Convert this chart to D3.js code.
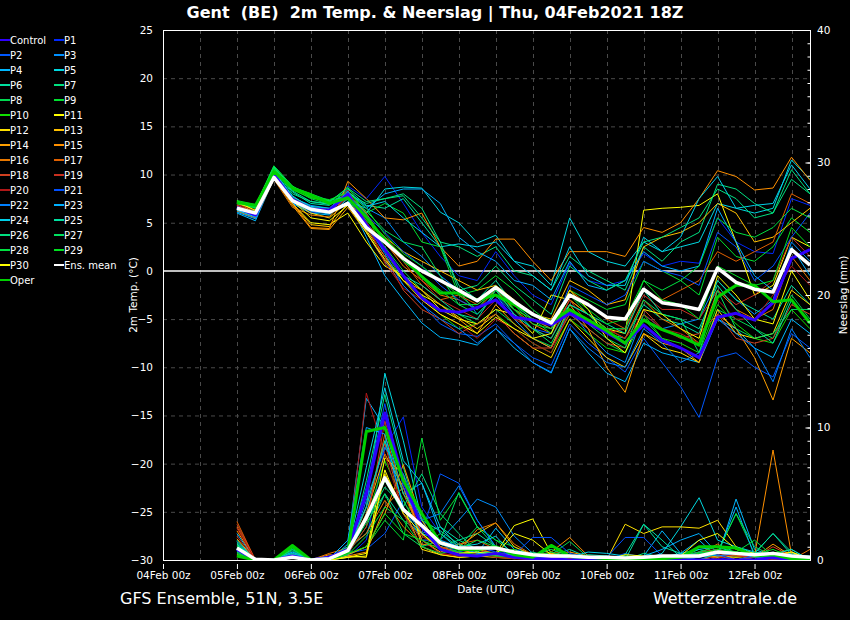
<!DOCTYPE html>
<html>
<head>
<meta charset="utf-8">
<script src="https://cdn.jsdelivr.net/npm/d3@7"></script>
<style>
  body { margin: 0; background: #000; }
  svg { display: block; font-family: "DejaVu Sans", sans-serif; }
</style>
</head>
<body>
<div id="chart"></div>
<script>
// member names and colours (legend order)
var names = ["Control","P1","P2","P3","P4","P5","P6","P7","P8","P9","P10","P11","P12","P13","P14","P15",
  "P16","P17","P18","P19","P20","P21","P22","P23","P24","P25","P26","P27","P28","P29","P30","Ens. mean","Oper"];
var colors = ["#3000ff","#0028ff","#0058ff","#0090ff","#00b8ff","#00d8e0","#00e0a0","#00e080","#00d850","#00e030",
  "#10e000","#ffff00","#ffe000","#ffc000","#ffa000","#ff9000","#e87800","#e06000","#d04020","#c83020","#b01818",
  "#0050ff","#0080ff","#00b0ff","#00d0e8","#00e0a0","#00e080","#00e060","#00e040","#00e020","#ffff00","#ffffff","#00d000"];

// axis ticks
var tempTicks = [-30,-25,-20,-15,-10,-5,0,5,10,15,20,25];
var rainTicks = [0,10,20,30,40];

// 2m temperature (deg C), every 6h from 05Feb 00z
var tControl = [6.6,5.8,10.0,7.4,6.4,6.3,8.0,4.8, 2.2,-0.5,-2.8,-4.1,-4.3,-3.8,-3.0,-4.8, -5.1,-5.6,-4.4,-5.4,-6.4,-7.5,-5.6,-7.2, -8.0,-9.0,-4.8,-4.4,-5.1,-3.3,1.3,2.2];
var tP1 = [6.2,5.5,10.2,7.0,6.0,6.2,8.8,7.5, 9.8,7.0,4.0,1.5,-0.5,-1.0,2.0,-0.5, -2.5,-3.5,0.8,-1.0,-1.5,-1.0,1.8,0.5, 1.0,0.8,5.5,3.0,2.0,1.8,7.5,6.8];
var tP2 = [6.5,5.7,9.8,7.2,6.2,6.0,8.0,4.0, 1.0,-1.5,-3.5,-5.5,-6.5,-6.8,-5.5,-7.5, -9.0,-9.8,-5.5,-7.5,-9.0,-10.5,-7.0,-9.5, -12.0,-15.2,-9.0,-8.5,-10.0,-11.0,-6.5,-8.0];
var tP3 = [6.8,6.0,10.0,7.6,6.8,6.5,8.2,6.5, 5.5,3.0,1.5,-0.5,-2.0,-4.5,-2.5,-5.0, -7.0,-8.0,-4.0,-6.5,-8.5,-9.5,-4.5,-6.0, -5.5,-5.0,-1.0,-3.0,-4.5,-3.0,3.0,1.0];
var tP4 = [6.0,5.2,9.6,7.0,6.0,5.8,7.5,3.5, -0.5,-3.0,-5.4,-6.9,-7.2,-7.7,-6.0,-8.0, -9.5,-10.6,-6.0,-8.5,-10.6,-11.5,-7.5,-8.5, -9.0,-9.5,-5.0,-6.0,-8.0,-9.0,-5.0,-6.5];
var tP5 = [6.3,5.6,10.4,7.8,6.5,6.4,7.8,6.0, 8.5,8.7,8.6,6.1,5.0,2.9,3.7,1.0, 0.5,-1.5,5.5,2.0,1.0,0.5,3.0,2.0, 2.5,3.0,7.0,6.5,6.0,6.5,11.5,9.5];
var tP6 = [7.0,6.5,10.5,8.2,7.0,6.8,8.5,6.8, 6.5,7.5,5.0,2.5,-1.5,-3.0,-1.0,-3.5, -5.0,-6.0,-3.5,-4.5,-6.5,-7.0,-3.5,-5.0, -5.5,-6.5,-1.0,-3.0,-4.0,-5.0,-1.5,-3.5];
var tP7 = [6.7,6.2,10.6,8.0,7.2,7.0,8.0,7.0, 7.5,8.0,6.5,3.0,2.5,1.5,2.5,0.0, -0.5,-2.0,1.5,0.0,-1.0,-2.0,2.5,1.0, 3.0,4.0,9.0,8.5,7.0,6.0,10.5,8.0];
var tP8 = [6.9,6.6,10.8,8.5,7.5,6.9,7.4,5.0, 2.5,0.0,-2.0,-3.5,-4.5,-5.5,-4.0,-5.5, -7.0,-7.8,-4.5,-6.0,-7.5,-8.5,-5.0,-7.0, -8.0,-9.0,-4.0,-5.0,-6.0,-7.0,-2.5,-5.0];
var tP9 = [7.2,6.8,10.9,8.8,7.6,7.3,8.3,6.0, 7.0,6.0,3.0,2.5,-2.5,-2.0,-0.5,-2.0, -4.0,-5.5,-2.0,-3.0,-4.0,-3.5,1.0,0.0, -1.0,-2.5,3.5,1.5,1.0,2.5,5.5,4.0];
var tP10 = [7.0,6.5,10.6,8.4,7.6,7.1,8.7,5.8, 2.0,-1.0,-2.5,-4.5,-6.0,-5.5,-4.5,-6.0, -7.5,-8.5,-5.0,-6.5,-8.0,-8.5,-4.5,-7.0, -7.5,-8.5,-3.5,-5.5,-7.0,-7.5,-4.0,-6.0];
var tP11 = [7.3,6.2,9.8,7.0,5.0,4.8,6.0,3.0, 0.5,-0.5,-2.0,-4.0,-5.0,-5.5,-4.0,-4.5, -6.5,-2.5,-3.0,-4.5,-6.0,-6.5,6.3,6.5, 6.6,6.8,8.0,3.0,-2.5,-1.5,3.5,2.5];
var tP12 = [7.1,6.0,9.9,7.2,6.0,5.5,7.2,4.2, 1.5,-1.0,-2.5,-3.5,-4.8,-6.0,-4.5,-6.5, -8.0,-9.0,-5.0,-7.0,-9.0,-10.0,-6.5,-8.0, -8.5,-9.5,-4.0,-6.5,-7.0,-6.5,-2.0,-3.5];
var tP13 = [6.8,5.9,9.7,7.0,4.8,4.6,7.0,5.5, 3.5,2.0,1.0,0.0,-1.0,-2.0,-1.5,-3.0, -4.5,-5.0,-1.0,-2.0,-3.5,-3.0,2.5,3.5, 4.0,5.0,7.0,6.0,3.0,3.5,5.0,6.5];
var tP14 = [6.5,5.8,9.6,6.8,4.4,4.3,6.6,4.0, 1.0,-1.0,-2.0,-3.5,-5.0,-6.5,-3.5,-5.5, -7.0,-8.0,-3.5,-6.0,-10.0,-12.6,-6.5,-7.5, -8.0,-9.5,-4.5,-6.0,-9.0,-13.4,-7.0,-8.5];
var tP15 = [6.4,5.7,9.8,7.0,4.5,4.4,9.3,7.5, 5.5,5.3,6.0,2.5,0.5,1.0,3.3,3.3, 1.0,-1.0,2.0,2.0,2.0,1.5,4.5,4.0, 5.0,7.5,10.4,9.8,8.4,8.6,11.8,9.4];
var tP16 = [6.2,5.5,9.5,6.6,5.8,5.6,8.0,6.0, 3.0,0.5,-1.0,-2.5,-3.0,-4.0,-2.0,-4.0, -5.5,-6.5,-3.0,-4.5,-6.0,-7.0,-3.0,-5.0, -6.0,-7.5,-2.0,-4.0,-5.0,-4.0,1.5,-1.0];
var tP17 = [6.6,6.0,10.0,7.3,6.3,6.0,7.0,5.0, 2.8,1.0,-1.5,-3.0,-2.5,-3.5,-2.0,-4.0, -5.0,-6.0,-2.0,-3.5,-5.0,-6.0,-2.0,-3.0, -2.0,-1.0,2.0,1.0,2.0,3.0,8.0,7.0];
var tP18 = [6.8,6.1,10.1,7.5,6.5,6.2,8.1,4.5, 1.5,-2.0,-4.0,-5.0,-6.5,-5.5,-4.5,-6.5, -8.0,-8.0,-4.5,-6.0,-7.5,-8.0,-4.0,-6.0, -7.0,-6.5,-4.5,-7.0,-7.5,-7.0,-3.5,-4.5];
var tP19 = [6.7,6.0,10.0,7.4,6.2,6.0,7.6,5.5, 3.5,1.5,-1.0,-3.0,-4.0,-5.0,-3.0,-5.0, -6.0,-7.0,-3.0,-5.5,-6.5,-6.0,-2.5,-4.0, -4.0,-5.0,-2.0,-3.5,-2.5,-1.0,3.5,1.5];
var tP20 = [6.9,6.3,10.2,7.6,6.6,6.4,8.4,5.2, 0.8,-1.8,-3.0,-4.5,-5.5,-7.0,-5.0,-6.0, -7.5,-8.5,-4.0,-5.0,-6.0,-7.0,-4.5,-6.0, -6.5,-7.5,-3.0,-5.0,-5.0,-2.5,0.5,-1.5];
var tP21 = [6.4,5.6,9.9,7.3,6.4,6.1,7.9,5.8, 4.0,2.0,0.5,-1.5,-3.0,-4.0,-2.5,-4.5, -6.0,-6.5,-1.5,-2.5,-3.5,-2.5,1.0,0.0, -0.5,-1.5,4.0,2.5,-1.0,0.5,3.5,6.0];
var tP22 = [6.5,5.9,10.1,7.5,6.6,6.3,8.3,4.8, 1.8,-1.5,-3.5,-5.0,-6.0,-7.5,-6.0,-7.5, -9.5,-10.5,-6.0,-8.0,-9.5,-10.0,-6.0,-7.5, -9.5,-8.5,-5.0,-6.5,-8.0,-11.5,-6.0,-9.0];
var tP23 = [6.1,5.4,9.8,7.1,6.2,5.9,7.2,6.5, 8.0,8.5,8.5,7.0,3.5,2.0,1.0,-1.0, -1.5,-3.0,1.0,-1.5,-2.0,-1.0,2.0,0.5, 0.0,0.5,6.5,3.0,-0.5,-2.0,2.5,-0.5];
var tP24 = [6.3,5.6,10.3,7.7,6.7,6.5,8.2,6.7, 7.2,5.5,4.0,2.5,2.8,2.5,3.0,1.0, -0.5,-2.0,2.5,-0.5,-1.5,-1.5,3.5,2.0, 3.5,7.5,9.8,6.5,6.8,7.0,11.0,8.5];
var tP25 = [7.0,6.6,10.7,8.3,7.2,6.9,8.0,4.6, 2.0,-0.5,-1.5,-3.0,-4.5,-5.0,-2.0,-4.5, -6.0,-7.0,-3.5,-4.5,-5.5,-6.5,-2.0,-4.5, -5.0,-6.0,-1.5,-4.0,-6.0,-7.5,-3.0,-5.5];
var tP26 = [7.1,6.7,10.8,8.6,7.8,7.2,8.6,7.2, 7.5,7.8,5.5,3.0,-2.0,-1.5,0.5,-1.5, -3.0,-4.5,0.5,-1.0,-2.0,-1.0,3.0,3.5, 4.5,5.5,8.5,7.5,5.5,6.0,9.5,8.0];
var tP27 = [7.2,6.7,10.7,8.7,8.0,7.3,7.8,6.2, 4.2,3.0,2.5,-0.5,-3.5,-4.5,-2.5,-4.0, -6.0,-7.5,-4.0,-5.5,-7.0,-8.0,-3.0,-4.5, -5.0,-8.5,-2.0,-6.0,-7.0,-6.5,-4.0,-4.0];
var tP28 = [7.0,6.6,10.9,8.8,7.8,7.2,7.5,5.2, 3.5,1.0,-0.5,-2.0,-3.5,-3.5,-2.0,-3.5, -5.5,-6.0,-2.5,-4.5,-6.0,-6.0,-1.0,-2.0, -1.0,0.5,5.5,4.0,3.5,4.5,6.5,5.5];
var tP29 = [7.3,6.9,10.6,8.6,7.7,7.4,8.1,6.5, 3.8,1.8,0.5,-1.0,-2.5,-4.0,-1.5,-4.0, -5.0,-6.5,-2.5,-4.0,-5.5,-5.0,-1.0,-3.0, -3.5,-5.0,0.5,-0.5,-1.5,-1.0,4.5,2.5];
var tP30 = [7.1,6.3,10.0,7.3,5.5,5.2,6.8,4.0, 1.2,-1.0,-3.0,-4.5,-5.5,-6.5,-4.8,-6.0, -7.0,-6.5,-2.0,-4.0,-7.0,-8.5,-4.0,-4.5, -6.0,-7.0,-0.5,-2.5,-5.0,-5.5,0.0,-3.0];
var tMean = [6.5,6.0,9.7,7.3,6.4,6.1,7.0,4.5, 3.0,1.3,0.0,-1.0,-2.0,-3.1,-1.7,-3.2, -4.5,-5.4,-2.5,-3.5,-4.8,-5.0,-1.9,-3.3, -3.6,-4.0,0.3,-1.2,-1.9,-2.2,2.2,0.6];
var tOper = [7.1,6.8,10.3,8.6,7.9,7.0,7.6,5.6, 3.2,1.4,-0.6,-2.3,-2.3,-3.0,-2.5,-3.5, -4.5,-5.3,-4.0,-5.1,-6.2,-7.5,-5.1,-6.1, -6.8,-7.7,-2.7,-1.5,-1.5,-3.2,-3.0,-5.4];

// neerslag (mm per 6h)
var pControl = [0.8,0,0,0.3,0,0.2,0.8,5.0, 11.1,6.0,2.5,0.8,0.4,0.3,0.5,0.2, 0.1,0.1,0,0,0,0,0,0.1, 0,0,0,0,0,0.2,0,0];
var pP1 = [0.5,0,0,0.4,0,0,0.2,1.5, 8.5,10.8,4.0,2.0,1.0,0.5,0.8,0.3, 0,0,0,0,0,0,0,0, 0.2,0,0,0.4,0,0,0,0];
var pP2 = [1.2,0,0,0.2,0,0.3,0.5,0.8, 2.0,4.5,2.0,6.5,5.8,3.0,1.0,0.5, 0.2,0,0.3,0,0,0.5,0.2,0, 0,0.3,0.6,0,0.2,0,0,0];
var pP3 = [0.6,0,0,0.6,0.1,0,0.3,3.5, 9.0,4.0,1.5,1.5,3.0,4.6,4.0,1.8, 0.5,0,0,0,0.3,0,0,0.2, 0,0.5,0,0,0.3,0,0,0];
var pP4 = [2.0,0,0,0.3,0,0,1.2,12.2, 10.0,5.0,5.8,2.0,0.8,0.5,2.4,0.8, 0.4,0.2,0,0.1,0,0,0.3,2.2, 0.5,1.5,0.2,4.6,0.8,0.3,0.2,0];
var pP5 = [0.9,0,0,0.8,0,0.2,1.0,4.0, 14.1,9.0,3.0,1.0,0.5,0.6,0.3,0.5, 0.2,0,0,0,0.1,0,0,0.5, 2.5,4.7,1.5,1.0,0.6,0.4,0.5,0];
var pP6 = [1.5,0,0,0.5,0,0.2,0.8,2.0, 5.0,3.0,2.0,2.5,1.5,2.0,1.0,0.5, 0.2,0.3,0.8,0.2,0,0.4,2.7,1.0, 0.5,0.3,0.4,1.0,0.5,2.0,0.6,0];
var pP7 = [1.3,0,0,0.4,0,0,0.3,6.0, 12.5,7.0,2.5,1.0,1.5,0.8,0.4,0.3, 0.6,0.2,0.1,0,0,0,0.5,0.2, 0.2,0.8,0.3,0.3,0.6,0.3,0.2,0.1];
var pP8 = [1.0,0,0,0.2,0,0,0.5,2.5, 6.0,3.5,1.0,2.0,1.0,2.5,1.5,0.5, 0.3,0.4,1.4,0.2,0,0,0.1,0.3, 0.2,0.5,0.6,0.3,0.4,0.2,0,0];
var pP9 = [0.7,0,0,0.9,0,0.1,0.4,1.0, 3.0,1.5,9.2,3.0,5.0,2.5,1.5,1.0, 0.3,0.4,0.3,0,0,0,0,0, 0,0.3,0.6,3.5,0.5,0.4,0.2,0];
var pP10 = [1.1,0,0,0.3,0,0,0.6,3.0, 7.5,4.5,2.0,1.0,0.6,0.5,0.6,0.8, 0.2,0.1,0,0,0,0,0.2,0, 0,0.4,0.8,0.3,0.2,0.5,0.8,0];
var pP11 = [0.4,0,0,0.3,0,0,0.2,0.5, 7.7,6.5,1.0,0.4,0.2,0.3,0.5,2.6, 3.1,0.5,0.3,0.2,0,0,0,0, 0.2,0,0.3,0.2,0.3,0.5,0.6,0.1];
var pP12 = [0.3,0,0,0.2,0,0,0.3,0.2, 6.5,4.0,0.8,0.4,0.2,0.3,0.2,0.1, 0.2,0,0,0,0,2.7,2.0,2.5, 2.5,2.4,3.0,1.0,0.3,0.2,0,0];
var pP13 = [0.8,0,0,0.4,0,0.1,0.5,3.5, 8.0,5.5,1.5,0.6,1.0,2.0,2.8,1.0, 0.4,0.1,0.3,0,0,0,0,0, 0,0.3,0.2,0.4,0.2,0.3,0,0];
var pP14 = [1.6,0,0,0.3,0,0.2,0.4,1.0, 3.5,7.2,3.0,1.0,0.5,0.8,0.5,0.4, 0.4,0.5,0.6,0.3,0.2,0,0,0, 0,0,0.3,0.6,0.2,1.2,0.3,0];
var pP15 = [2.2,0,0,0.2,0,0.4,0.3,0.6, 4.0,5.5,2.0,0.8,0.5,0.4,0.3,0.3, 0.3,0.6,1.7,0.3,0,0,0,0, 0,0.4,0.8,0,0.3,8.3,0.4,0.2];
var pP16 = [2.5,0,0,0.2,0,0.5,0.9,2.0, 4.5,2.5,1.2,1.0,0.6,2.3,2.8,1.2, 0.4,0.2,0.1,0.2,0,0,0,0.2, 0,0.5,1.2,0.3,0.2,0.3,0,0.8];
var pP17 = [2.9,0,0,0.3,0.1,0,0.7,3.0, 9.5,5.0,2.0,0.8,1.2,1.5,0.8,0.5, 0.2,0.2,0.2,0.1,0,0,0,0, 0.3,0.6,0.3,0,0.2,0.1,0.3,0];
var pP18 = [2.7,0,0,0.2,0,0,0.4,4.0, 8.8,3.5,1.5,0.5,0.3,0.5,1.0,0.6, 0.2,0,0.1,0,0,0,0,0, 0.1,0.6,0.8,0.4,0.2,1.0,0.3,0];
var pP19 = [1.8,0,0,0.3,0,0.1,0.5,2.5, 10.5,6.0,1.8,1.0,0.5,0.4,0.3,0.2, 0,0.2,0,0,0,0,0,0.2, 0,0.3,0.4,0.3,0.2,0.1,0,0];
var pP20 = [2.4,0,0,0.2,0,0,0.6,12.6, 8.0,3.5,1.0,0.5,0.3,0.5,0.2,0.1, 0,0,0,0,0,0,0,0, 0.2,0.3,0.1,0.5,0.2,0,0,0];
var pP21 = [0.9,0,0,0.5,0,0.3,0.8,5.5, 11.8,5.5,2.5,1.2,0.6,1.0,0.6,0.4, 1.7,1.7,0.5,0.2,0.2,1.7,1.7,0.3, 0,0.2,0.4,0,0.3,0.2,0.1,0];
var pP22 = [0.8,0,0,0.3,0.1,0.2,0.4,4.5, 8.5,6.5,3.0,3.5,5.6,3.0,1.0,0.6, 0.3,0.1,0.2,0,0,0,0,0, 0.2,0.6,0.3,0.5,0.2,0.2,0.3,0.1];
var pP23 = [0.7,0,0,0.6,0,0.1,1.5,10.0, 9.5,4.0,2.0,1.5,1.0,0.5,0.4,0.4, 0.2,0,0,0.2,0,0,0.3,0.8, 1.5,2.0,0.5,4.0,0.3,0.2,0,0];
var pP24 = [1.4,0,0,0.4,0,0,0.7,7.0, 13.0,7.5,5.8,2.5,1.0,1.2,1.8,0.3, 0.2,0,0.2,0.6,0.5,0.3,0.2,0.2, 0.5,0.8,1.0,0.5,0.5,0.4,0.8,0];
var pP25 = [1.2,0,0,0.5,0,0.1,0.6,4.0, 9.0,5.0,3.0,2.2,1.2,0.6,0.5,0.3, 0.1,0,0,0.4,0.3,0,2.7,1.5, 0.2,0,0.5,0.6,0.5,2.0,0.4,0.3];
var pP26 = [1.0,0,0,0.7,0,0.2,1.0,3.0, 5.5,4.0,6.5,3.5,2.0,0.6,0.4,0.2, 0.3,0,0,0,0.2,0,0.2,0, 0.3,0.2,0.6,0.5,0.3,0.6,0.2,0];
var pP27 = [1.1,0,0,0.8,0,0,0.6,2.8, 5.0,2.0,1.0,1.5,5.1,2.5,1.0,0.5, 0.3,0.8,0.3,0,0,0,0,0, 0,0.5,0.6,3.5,1.0,0.3,0,0];
var pP28 = [0.6,0,0,1.0,0,0,0.4,1.8, 4.0,3.0,1.0,0.5,0.8,1.5,1.0,0.3, 0.2,0.6,0.2,0,0,0.3,0.2,0.2, 0.3,0.6,1.0,0.6,1.5,0.3,0.2,0.1];
var pP29 = [0.5,0,0,0.9,0,0,0.5,1.0, 3.5,2.0,1.5,0.8,0.6,0.4,0.3,0.2, 0.5,0.4,0.2,0.1,0,0,0,0, 0,0.5,0.8,0.6,0.4,0.8,0.2,0];
var pP30 = [0.3,0,0,0.2,0,0,0.2,0.3, 6.8,3.5,2.0,0.8,0.5,0.6,0.4,2.0, 1.5,0.4,0.3,0.2,0,0.4,0.3,0.2, 0.3,1.5,2.0,0.8,0.5,0.3,0.6,0];
var pMean = [0.9,0.05,0,0.2,0,0.1,0.7,3.2, 6.2,3.8,2.6,1.3,0.9,0.9,0.9,0.6, 0.4,0.3,0.3,0.2,0.2,0.15,0.2,0.3, 0.3,0.3,0.6,0.5,0.4,0.5,0.3,0.2];
var pOper = [0.3,0,0,1.1,0,0.1,0.6,9.7, 10.0,6.0,3.5,1.3,0.8,0.8,1.0,0.4, 0.2,1.1,0.3,0.2,0.1,0,0,0.1, 0.2,1.0,1.0,0.9,0.3,0.4,0.1,0];

// pair up the series in legend order
var tempSeries = [tControl,tP1,tP2,tP3,tP4,tP5,tP6,tP7,tP8,tP9,tP10,tP11,tP12,tP13,tP14,tP15,
  tP16,tP17,tP18,tP19,tP20,tP21,tP22,tP23,tP24,tP25,tP26,tP27,tP28,tP29,tP30,tMean,tOper];
var rainSeries = [pControl,pP1,pP2,pP3,pP4,pP5,pP6,pP7,pP8,pP9,pP10,pP11,pP12,pP13,pP14,pP15,
  pP16,pP17,pP18,pP19,pP20,pP21,pP22,pP23,pP24,pP25,pP26,pP27,pP28,pP29,pP30,pMean,pOper];

var members = names.map(function (n, i) {
  return {name: n, color: colors[i], temp: tempSeries[i], rain: rainSeries[i],
    width: n === "Ens. mean" ? 3.5 : (n === "Control" || n === "Oper") ? 3 : 1};
});
// thin members first, then control, oper and mean on top
var drawOrder = members.slice(1, 31).concat([members[0], members[32], members[31]]);

var W = 850, H = 620;
var plot = {left: 163, top: 30, right: 810, bottom: 560};

// valid times: 6-hourly from 05Feb 00z to 12Feb 18z
var times = d3.utcHour.every(6).range(new Date(Date.UTC(2021, 1, 5, 0)), new Date(Date.UTC(2021, 1, 12, 19)));

var x = d3.scaleUtc()
  .domain([new Date(Date.UTC(2021, 1, 4, 0)), new Date(Date.UTC(2021, 1, 12, 18))])
  .range([plot.left, plot.right]);
var yT = d3.scaleLinear().domain([-30, 25]).range([plot.bottom, plot.top]);
var yP = d3.scaleLinear().domain([0, 40]).range([plot.bottom, plot.top]);

var svg = d3.select("#chart").append("svg")
  .attr("width", W)
  .attr("height", H);
svg.append("rect").attr("width", W).attr("height", H).attr("fill", "#000");

svg.append("clipPath").attr("id", "clip")
  .append("rect")
  .attr("x", plot.left).attr("y", plot.top)
  .attr("width", plot.right - plot.left).attr("height", plot.bottom - plot.top);

// dashed grid
var grid = svg.append("g")
  .attr("stroke", "#4a4a4a")
  .attr("stroke-dasharray", "4,4")
  .attr("stroke-width", 1);
grid.selectAll(".hg")
  .data(tempTicks.filter(function (v) { return v > -30 && v < 25 && v !== 0; }))
  .enter().append("line")
  .attr("x1", plot.left).attr("x2", plot.right)
  .attr("y1", function (d) { return yT(d) + 0.5; })
  .attr("y2", function (d) { return yT(d) + 0.5; });
grid.selectAll(".vg")
  .data(d3.utcHour.every(12).range(new Date(Date.UTC(2021, 1, 4, 12)), new Date(Date.UTC(2021, 1, 12, 13))))
  .enter().append("line")
  .attr("y1", plot.top).attr("y2", plot.bottom)
  .attr("x1", function (d) { return Math.round(x(d)) + 0.5; })
  .attr("x2", function (d) { return Math.round(x(d)) + 0.5; });

// zero degree line
svg.append("line")
  .attr("x1", plot.left).attr("x2", plot.right)
  .attr("y1", yT(0)).attr("y2", yT(0))
  .attr("stroke", "#fff").attr("stroke-width", 1.5);

var tempLine = d3.line()
  .x(function (d, i) { return x(times[i]); })
  .y(function (d) { return yT(d); });
var rainLine = d3.line()
  .x(function (d, i) { return x(times[i]); })
  .y(function (d) { return yP(d); });

var lines = svg.append("g").attr("clip-path", "url(#clip)")
  .attr("fill", "none")
  .attr("stroke-linejoin", "round");

// precipitation lines (right axis)
lines.selectAll(".rain")
  .data(drawOrder)
  .enter().append("path")
  .attr("class", "rain")
  .attr("d", function (d) { return rainLine(d.rain); })
  .attr("stroke", function (d) { return d.color; })
  .attr("stroke-width", function (d) { return d.width; });

// temperature lines (left axis)
lines.selectAll(".temp")
  .data(drawOrder)
  .enter().append("path")
  .attr("class", "temp")
  .attr("d", function (d) { return tempLine(d.temp); })
  .attr("stroke", function (d) { return d.color; })
  .attr("stroke-width", function (d) { return d.width; });

// frame
svg.append("rect")
  .attr("x", plot.left + 0.5).attr("y", plot.top + 0.5)
  .attr("width", plot.right - plot.left).attr("height", plot.bottom - plot.top)
  .attr("fill", "none").attr("stroke", "#fff").attr("stroke-width", 1);

// left axis
svg.append("g")
  .attr("transform", "translate(" + plot.left + ",0)")
  .call(d3.axisLeft(yT).tickValues(tempTicks).tickSize(0).tickPadding(10));

// bottom axis
var fmt = d3.utcFormat("%d%b %H");
svg.append("g")
  .attr("transform", "translate(0," + (plot.bottom + 4) + ")")
  .call(d3.axisBottom(x)
    .tickValues(d3.utcDay.range(new Date(Date.UTC(2021, 1, 4)), new Date(Date.UTC(2021, 1, 12, 1))))
    .tickSize(5).tickPadding(3)
    .tickFormat(function (d) { return fmt(d) + "z"; }));

// right axis: inward minor ticks every mm, labels every 10 mm
svg.append("g")
  .attr("transform", "translate(" + (plot.right + 0.5) + ",0)")
  .call(d3.axisLeft(yP).tickValues(d3.range(1, 40)).tickSize(3).tickFormat(""));
svg.append("g")
  .attr("transform", "translate(" + (plot.right + 0.5) + ",0)")
  .call(d3.axisLeft(yP).tickValues(rainTicks).tickSize(5).tickFormat(""));
svg.append("g")
  .attr("transform", "translate(" + plot.right + ",0)")
  .call(d3.axisRight(yP).tickValues(rainTicks).tickSize(0).tickPadding(7));

svg.selectAll(".domain").remove();
svg.selectAll(".tick line").attr("stroke", "#fff");
svg.selectAll(".tick text")
  .attr("fill", "#fff")
  .style("font-size", "10.5px")
  .style("font-family", "'DejaVu Sans', sans-serif");

// titles
svg.append("text")
  .attr("x", 435).attr("y", 18)
  .attr("text-anchor", "middle")
  .attr("fill", "#fff")
  .style("font-size", "16px").style("font-weight", "bold")
  .style("white-space", "pre")
  .text("Gent  (BE)  2m Temp. & Neerslag | Thu, 04Feb2021 18Z");

svg.append("text")
  .attr("transform", "translate(137,295) rotate(-90)")
  .attr("text-anchor", "middle").attr("fill", "#fff")
  .style("font-size", "10.5px")
  .text("2m Temp. (°C)");

svg.append("text")
  .attr("transform", "translate(847,295) rotate(-90)")
  .attr("text-anchor", "middle").attr("fill", "#fff")
  .style("font-size", "10.5px")
  .text("Neerslag (mm)");

svg.append("text")
  .attr("x", 486).attr("y", 593)
  .attr("text-anchor", "middle").attr("fill", "#fff")
  .style("font-size", "10.5px")
  .text("Date (UTC)");

svg.append("text")
  .attr("x", 120).attr("y", 604)
  .attr("fill", "#fff")
  .style("font-size", "16px")
  .text("GFS Ensemble, 51N, 3.5E");

svg.append("text")
  .attr("x", 797).attr("y", 604)
  .attr("text-anchor", "end").attr("fill", "#fff")
  .style("font-size", "16px")
  .text("Wetterzentrale.de");

// legend, two columns
var legend = svg.selectAll(".legend")
  .data(members)
  .enter().append("g")
  .attr("class", "legend")
  .attr("transform", function (d, i) {
    return "translate(" + (i % 2 ? 54 : 0) + "," + (40 + Math.floor(i / 2) * 15) + ")";
  });
legend.append("line")
  .attr("x1", 0).attr("x2", 10)
  .attr("stroke", function (d) { return d.color; })
  .attr("stroke-width", 2);
legend.append("text")
  .attr("x", 10).attr("dy", "0.35em")
  .attr("fill", "#fff")
  .style("font-size", "10px")
  .text(function (d) { return d.name; });
</script>
</body>
</html>
